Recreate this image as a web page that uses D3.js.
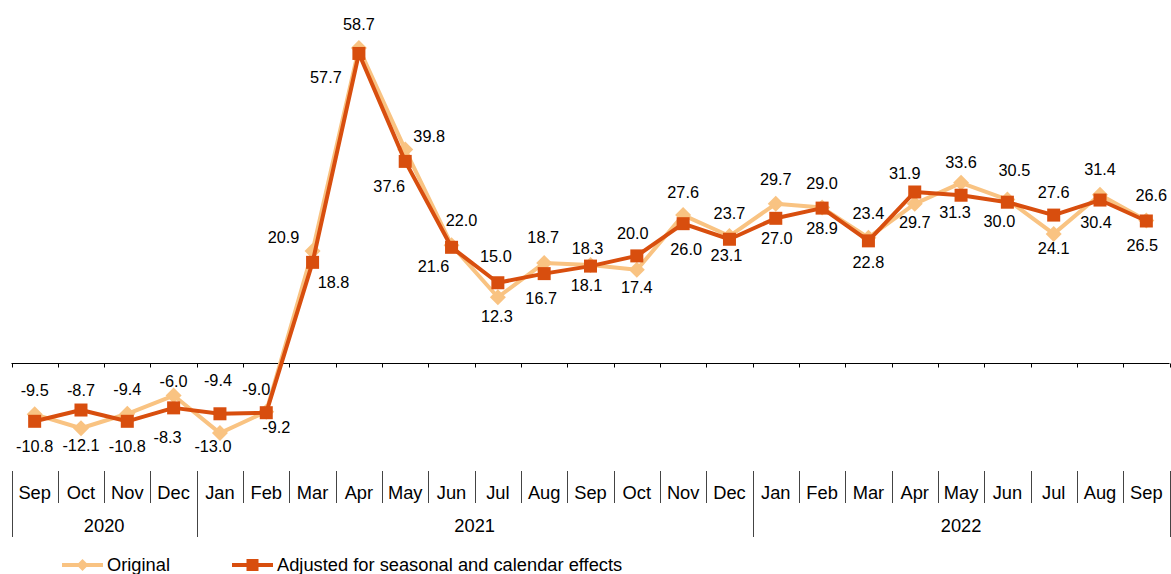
<!DOCTYPE html>
<html>
<head>
<meta charset="utf-8">
<script src="https://cdn.jsdelivr.net/npm/d3@7"></script>
<style>
  html, body { margin: 0; padding: 0; background: #fff; }
  svg { display: block; font-family: "Liberation Sans", Arial, sans-serif; }
</style>
</head>
<body>
<svg id="chart" width="1171" height="574"></svg>
<script>
const months = ["Sep","Oct","Nov","Dec","Jan","Feb","Mar","Apr","May","Jun","Jul","Aug","Sep","Oct","Nov","Dec","Jan","Feb","Mar","Apr","May","Jun","Jul","Aug","Sep"];
const yearLabels = ["2020","2021","2022"];
const yearMonthCounts = [4, 12, 9];
const original = [-9.5,-12.1,-9.4,-6.0,-13.0,-9.0,20.9,58.7,39.8,22.0,12.3,18.7,18.3,17.4,27.6,23.7,29.7,29.0,23.4,29.7,33.6,30.5,24.1,31.4,26.6];
const adjusted = [-10.8,-8.7,-10.8,-8.3,-9.4,-9.2,18.8,57.7,37.6,21.6,15.0,16.7,18.1,20.0,26.0,23.1,27.0,28.9,22.8,31.9,31.3,30.0,27.6,30.4,26.5];
const seriesNames = ["Original", "Adjusted for seasonal and calendar effects"];

// label placement offsets (px, relative to the point) — layout only
const origLabelOffsets = [[0,-24],[0,17],[0,-24],[0,-14],[-7,13],[-10,-22],[-29,-14],[0,-24],[24,-13],[10,-25],[-1,19],[-1,-26],[-3,-17],[0,17],[0,-23],[0,-23],[0,-25],[0,-24],[0,-24],[0,18],[0,-21],[7,-29],[0,14],[0,-25],[5,-25]];
const adjLabelOffsets = [[0,25],[0,-20],[0,25],[-6,29],[-2,-33],[10,15],[21,20],[-33,24],[-16,25],[-18,19],[-2,-26],[-3,25],[-4,19],[-4,-23],[3,26],[-3,16],[1,20],[0,20],[0,21],[-10,-19],[-6,17],[-8,19],[0,-23],[-4,22],[-4,24]];

const colOrig = "#F9C382";
const colAdj = "#D84E0E";

const svg = d3.select("#chart");
const idx = d3.range(months.length);
const x = d3.scaleBand().domain(idx).range([11.5, 1169.5]).paddingInner(0).paddingOuter(0);
const y = d3.scaleLinear().domain([-20, 60]).range([363.3 + 20 * 5.37, 363.3 - 60 * 5.37]);
const cx = i => x(i) + x.bandwidth() / 2;
const y0 = Math.round(y(0)) + 0.5;

// zero axis line with small ticks
svg.append("line").attr("x1", x.range()[0]).attr("x2", x.range()[1]).attr("y1", y0).attr("y2", y0)
  .attr("stroke", "#000").attr("stroke-width", 1);
const bounds = d3.range(months.length + 1).map(i => i === months.length ? x.range()[1] : x(i));
svg.append("g").selectAll("line").data(bounds).join("line")
  .attr("x1", d => Math.round(d) + 0.5).attr("x2", d => Math.round(d) + 0.5)
  .attr("y1", y0).attr("y2", y0 + 4).attr("stroke", "#000");

// category axis below
const catTop = 471, catBot = 503, yearBot = 537;
const yearBounds = [0];
yearMonthCounts.forEach((c, k) => yearBounds.push(yearBounds[k] + c));
svg.append("g").selectAll("line").data(d3.range(months.length + 1)).join("line")
  .attr("x1", i => Math.round(bounds[i]) + 0.5).attr("x2", i => Math.round(bounds[i]) + 0.5)
  .attr("y1", catTop)
  .attr("y2", i => yearBounds.includes(i) ? yearBot : catBot)
  .attr("stroke", "#444").attr("stroke-width", 1);
svg.append("g").selectAll("text").data(idx).join("text")
  .attr("x", i => cx(i)).attr("y", 493).attr("dy", "0.35em")
  .attr("text-anchor", "middle").attr("font-size", 18.3).attr("fill", "#000")
  .text(i => months[i]);
svg.append("g").selectAll("text").data(yearLabels).join("text")
  .attr("x", (d, k) => (bounds[yearBounds[k]] + bounds[yearBounds[k + 1]]) / 2)
  .attr("y", 526).attr("dy", "0.35em")
  .attr("text-anchor", "middle").attr("font-size", 18.3).attr("fill", "#000")
  .text(d => d);

// lines
const line = vals => d3.line().x((d, i) => cx(i)).y(d => y(d))(vals);
svg.append("path").attr("d", line(original)).attr("fill", "none")
  .attr("stroke", colOrig).attr("stroke-width", 4).attr("stroke-linejoin", "round");
const diamond = d3.symbol().type(d3.symbolSquare).size(128);
svg.append("g").selectAll("path").data(original).join("path")
  .attr("transform", (d, i) => `translate(${cx(i)},${y(d)}) rotate(45)`)
  .attr("d", diamond).attr("fill", colOrig);

svg.append("path").attr("d", line(adjusted)).attr("fill", "none")
  .attr("stroke", colAdj).attr("stroke-width", 4).attr("stroke-linejoin", "round");
svg.append("g").selectAll("rect").data(adjusted).join("rect")
  .attr("x", (d, i) => cx(i) - 6.5).attr("y", d => y(d) - 6.5)
  .attr("width", 13).attr("height", 13).attr("fill", colAdj);

// data labels
function labels(vals, offs) {
  svg.append("g").selectAll("text").data(vals).join("text")
    .attr("x", (d, i) => cx(i) + offs[i][0])
    .attr("y", (d, i) => y(d) + offs[i][1])
    .attr("dy", "0.35em").attr("text-anchor", "middle")
    .attr("font-size", 16.3).attr("fill", "#000")
    .text(d => d3.format(".1f")(d).replace("−", "-"));
}
labels(original, origLabelOffsets);
labels(adjusted, adjLabelOffsets);

// legend
const ly = 565;
const lg = svg.append("g");
lg.append("line").attr("x1", 62).attr("x2", 103).attr("y1", ly).attr("y2", ly)
  .attr("stroke", colOrig).attr("stroke-width", 4);
lg.append("path").attr("transform", `translate(82.5,${ly}) rotate(45)`).attr("d", d3.symbol().type(d3.symbolSquare).size(72)).attr("fill", colOrig);
lg.append("text").attr("x", 107).attr("y", ly).attr("dy", "0.35em").attr("font-size", 18.3).text(seriesNames[0]);
lg.append("line").attr("x1", 232).attr("x2", 273).attr("y1", ly).attr("y2", ly)
  .attr("stroke", colAdj).attr("stroke-width", 4);
lg.append("rect").attr("x", 252.5 - 6).attr("y", ly - 6).attr("width", 12).attr("height", 12).attr("fill", colAdj);
lg.append("text").attr("x", 277).attr("y", ly).attr("dy", "0.35em").attr("font-size", 18.3).text(seriesNames[1]);
</script>
</body>
</html>
